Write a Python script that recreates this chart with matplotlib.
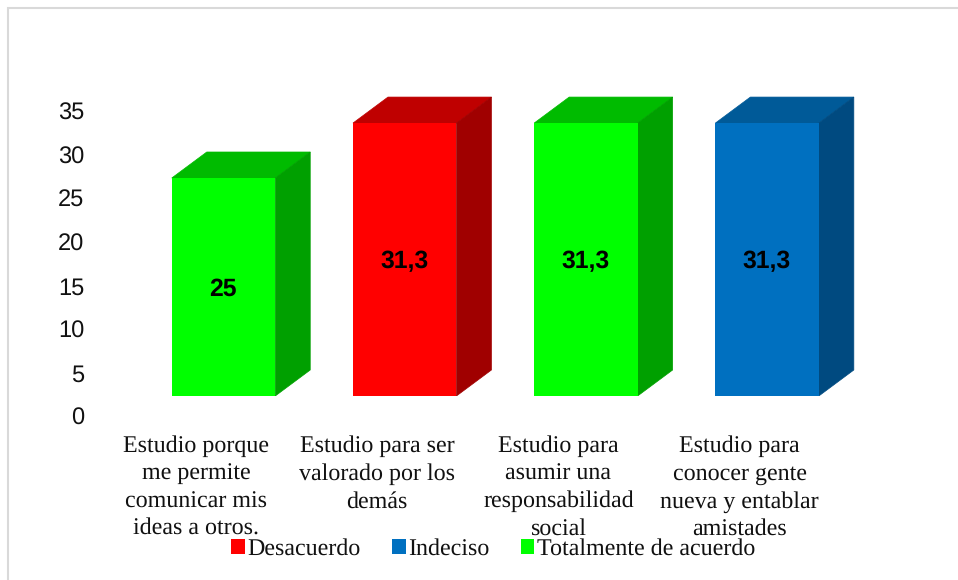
import matplotlib
matplotlib.use("Agg")
import matplotlib.pyplot as plt
from matplotlib.patches import Polygon, Patch, Rectangle
from matplotlib.transforms import ScaledTranslation

plt.rcParams["text.hinting"] = "no_hinting"

categories = [
    "Estudio porque\nme permite\ncomunicar mis\nideas a otros.",
    "Estudio para ser\nvalorado por los\ndemás",
    "Estudio para\nasumir una\nresponsabilidad\nsocial",
    "Estudio para\nconocer gente\nnueva y entablar\namistades",
]
values = [25, 31.3, 31.3, 31.3]
value_labels = ["25", "31,3", "31,3", "31,3"]
y_ticks = [0, 5, 10, 15, 20, 25, 30, 35]
front_colors = ["#00FF00", "#FF0000", "#00FF00", "#0070C0"]
top_colors = ["#00BB00", "#BF0000", "#00BB00", "#005A98"]
side_colors = ["#00A000", "#A00000", "#00A000", "#004A80"]
legend_names = ["Desacuerdo", "Indeciso", "Totalmente de acuerdo"]
legend_colors = ["#FF0000", "#0070C0", "#00FF00"]

W, H = 958, 580
fig = plt.figure(figsize=(W / 100, H / 100), dpi=100, facecolor="white")

# plot region in pixels
L, R, T, B = 90, 900, 60, 396
ax = fig.add_axes([L / W, 1 - B / H, (R - L) / W, (B - T) / H])
x_step = 181.2
y_scale = 8.72
ax.set_xlim((L - 223.5) / x_step, (R - 223.5) / x_step)
ax.set_ylim(0, (B - T) / y_scale)
for s in ax.spines.values():
    s.set_visible(False)

width = 0.571
dx = 35 / x_step
dy = 26 / y_scale
for i, v in enumerate(values):
    ax.bar(i, v, width=width, color=front_colors[i], linewidth=0, zorder=3)
    x0, x1 = i - width / 2, i + width / 2
    ax.add_patch(Polygon([(x0, v), (x1, v), (x1 + dx, v + dy), (x0 + dx, v + dy)],
                         closed=True, facecolor=top_colors[i], edgecolor=top_colors[i],
                         linewidth=0.5, zorder=2))
    ax.add_patch(Polygon([(x1, 0), (x1 + dx, dy), (x1 + dx, v + dy), (x1, v)],
                         closed=True, facecolor=side_colors[i], edgecolor=side_colors[i],
                         linewidth=0.5, zorder=2.5))
    ax.annotate(value_labels[i], xy=(i, v / 2), xytext=(-0.3, -1.5), textcoords="offset points",
                ha="center", va="center", color="black",
                fontsize=17.8, fontweight="bold", family="Liberation Sans", zorder=4)

ax.set_xticks(range(len(categories)))
ax.set_xticklabels(categories, family="Liberation Serif", fontsize=17.3,
                   linespacing=1.355, color="#111111")
ax.tick_params(axis="x", length=0, pad=28.3)
x_shift = ScaledTranslation(-27.5 / 100, 0, fig.dpi_scale_trans)
for lab in ax.get_xticklabels():
    lab.set_transform(lab.get_transform() + x_shift)
ax.set_yticks(y_ticks)
ax.set_yticklabels([str(t) for t in y_ticks], family="Liberation Sans", fontsize=17, color="#111111")
ax.tick_params(axis="y", length=0, pad=4)
y_shift = ScaledTranslation(0, -20.5 / 100, fig.dpi_scale_trans)
for lab in ax.get_yticklabels():
    lab.set_transform(lab.get_transform() + y_shift)

fig.legend(handles=[Patch(facecolor=c, linewidth=0) for c in legend_colors], labels=legend_names,
           loc="center", bbox_to_anchor=(493 / W, 1 - 549 / H), ncol=3, frameon=False,
           prop={"family": "Liberation Serif", "size": 17.3},
           handlelength=0.58, handleheight=0.58, handletextpad=0.1, columnspacing=1.3,
           labelcolor="#111111", borderpad=0, borderaxespad=0)

fig.add_artist(Rectangle((8 / W, -0.1), 1.1, 1 - 8 / H + 0.1, transform=fig.transFigure,
                         fill=False, edgecolor="#D9D9D9", linewidth=1.5))

fig.savefig("out.png", dpi=100)
